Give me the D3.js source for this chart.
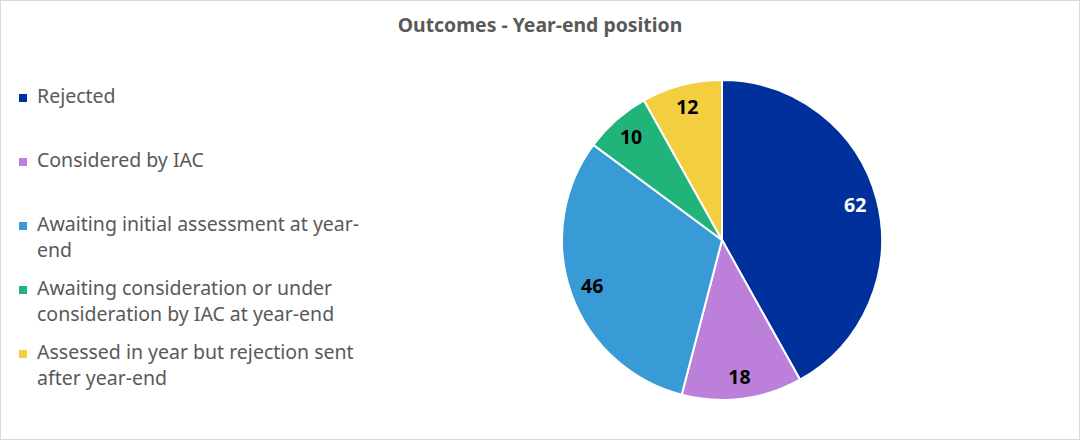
<!DOCTYPE html>
<html>
<head>
<meta charset="utf-8">
<script src="https://cdn.jsdelivr.net/npm/d3@7"></script>
<style>
  body { margin: 0; background: #fff; }
  text { font-family: "Noto Sans", sans-serif; }
</style>
</head>
<body>
<div id="chart"></div>
<script>
// Data
const categories = [
  "Rejected",
  "Considered by IAC",
  "Awaiting initial assessment at year-end",
  "Awaiting consideration or under consideration by IAC at year-end",
  "Assessed in year but rejection sent after year-end"
];
const legendLines = [
  ["Rejected"],
  ["Considered by IAC"],
  ["Awaiting initial assessment at year-", "end"],
  ["Awaiting consideration or under", "consideration by IAC at year-end"],
  ["Assessed in year but rejection sent", "after year-end"]
];
const values = [62, 18, 46, 10, 12];
const colors = ["#00309C", "#BC80DB", "#389BD5", "#20B47B", "#F3CF3F"];
const labelColors = ["#fff", "#000", "#000", "#000", "#000"];

const width = 1080, height = 441;

const svg = d3.select("#chart")
  .append("svg")
  .attr("width", width)
  .attr("height", height);

// outer border
svg.append("rect")
  .attr("x", 0.5).attr("y", 0.5)
  .attr("width", width - 1).attr("height", height - 2)
  .attr("fill", "#fff")
  .attr("stroke", "#d9d9d9");

// Title
svg.append("text")
  .attr("x", 540)
  .attr("y", 32)
  .attr("text-anchor", "middle")
  .style("font-size", "19.4px")
  .style("font-weight", "bold")
  .attr("fill", "#595959")
  .text("Outcomes - Year-end position");

// Pie
const cx = 722, cy = 240, r = 160;
const g = svg.append("g").attr("transform", `translate(${cx},${cy})`);

const pie = d3.pie().sort(null).value(d => d);
const arcs = pie(values);
const arc = d3.arc().innerRadius(0).outerRadius(r);
const labelArc = d3.arc().innerRadius(r * 0.86).outerRadius(r * 0.86);

g.selectAll("path")
  .data(arcs)
  .enter()
  .append("path")
  .attr("d", arc)
  .attr("fill", (d, i) => colors[i])
  .attr("stroke", "#fff")
  .attr("stroke-width", 2);

g.selectAll("text.lbl")
  .data(arcs)
  .enter()
  .append("text")
  .attr("class", "lbl")
  .attr("transform", d => `translate(${labelArc.centroid(d)})`)
  .attr("text-anchor", "middle")
  .attr("dy", "0.36em")
  .style("font-size", "19.5px")
  .style("font-weight", "bold")
  .attr("fill", (d, i) => labelColors[i])
  .text(d => d.data);

// Legend
const legend = svg.append("g").attr("transform", "translate(19,0)");
const rowY = d3.scaleLinear().domain([0, 1]).range([103, 167]);

legendLines.forEach((lines, i) => {
  const y = rowY(i);
  legend.append("rect")
    .attr("x", 0)
    .attr("y", y - 9)
    .attr("width", 8)
    .attr("height", 8)
    .attr("fill", colors[i]);

  const t = legend.append("text")
    .attr("x", 18)
    .attr("y", y)
    .style("font-size", "19.5px")
    .attr("fill", "#595959");
  lines.forEach((line, j) => {
    t.append("tspan")
      .attr("x", 18)
      .attr("y", y + j * 26)
      .text(line);
  });
});
</script>
</body>
</html>
